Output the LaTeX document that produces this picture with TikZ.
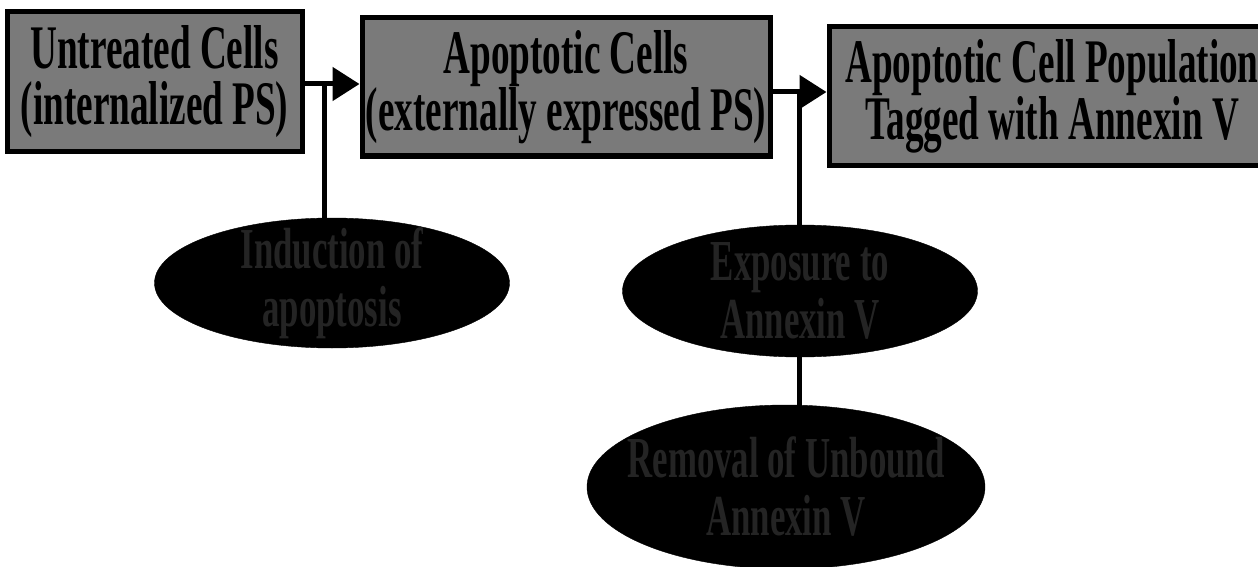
\documentclass[tikz,border=0pt]{standalone}
\usepackage{fontspec}
\setmainfont{Liberation Serif}
\newfontfamily\boxfont[FakeStretch=0.6]{Liberation Serif}
\usetikzlibrary{arrows.meta,shapes.geometric,backgrounds}
\definecolor{boxgray}{RGB}{122,122,122}
\definecolor{ovaltext}{RGB}{36,36,36}
\tikzset{
  cellbox/.style={draw=black, line width=5pt, fill=boxgray, rectangle, inner sep=0pt,
    align=center, text=black, font=\boxfont\bfseries\fontsize{62}{56}\selectfont},
  oval/.style={ellipse, fill=black, draw=black, inner sep=0pt},
  ovaltxt/.style={align=center, inner sep=0pt, text=ovaltext,
    font=\boxfont\bfseries\fontsize{58}{58}\selectfont},
  arr/.style={line width=5pt, -{Triangle[length=27pt,width=33pt]}},
  conn/.style={line width=5pt}
}
\begin{document}
\begin{tikzpicture}[x=1pt,y=-1pt]
\useasboundingbox (0,0) rectangle (1258,567);
% boxes
\node[cellbox, minimum width=295pt, minimum height=140pt] (b1) at (154.5,82) {Untreated Cells\\(internalized PS)};
\node[cellbox, minimum width=408pt, minimum height=138pt] (b2) at (566,87) {Apoptotic Cells\\(externally expressed PS)};
\node[cellbox, minimum width=446pt, minimum height=138pt] (b3) at (1052,96) {Apoptotic Cell Population\\Tagged with Annexin V};
% ovals
\node[oval, minimum width=355pt, minimum height=130pt] (e1) at (332,283) {};
\node[ovaltxt] (t1) at (e1.center) {Induction of\\apoptosis};
\node[oval, minimum width=355pt, minimum height=132pt] (e2) at (800,291) {};
\node[ovaltxt] (t2) at (e2.center) {Exposure to\\Annexin V};
\node[oval, minimum width=398pt, minimum height=164pt] (e3) at (786,487) {};
\node[ovaltxt] (t3) at (e3.center) {Removal of Unbound\\Annexin V};
% junctions
\coordinate (j1) at (324,84);
\coordinate (j2) at (799,92);
\begin{scope}[on background layer]
\draw[arr] (b1.east |- j1) -- (b2.west |- j1);
\draw[arr] (b2.east |- j2) -- (b3.west |- j2);
\draw[conn] (j1) -- (j1 |- e1.center);
\draw[conn] (j2) -- (j2 |- e3.center);
\end{scope}
\end{tikzpicture}
\end{document}
